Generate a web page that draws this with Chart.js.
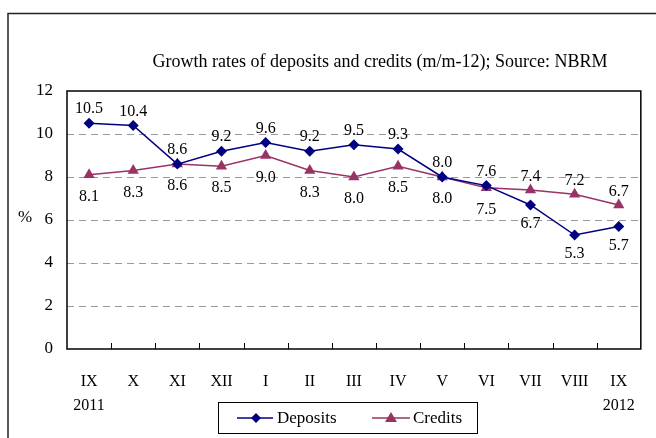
<!DOCTYPE html>
<html>
<head>
<meta charset="utf-8">
<script src="https://cdn.jsdelivr.net/npm/chart.js@4"></script>
<style>
  html, body { margin: 0; padding: 0; background: #fff; }
  #wrap { position: relative; width: 656px; height: 438px; overflow: hidden; }
</style>
</head>
<body>
<div id="wrap"><canvas id="growthChart" width="656" height="438"></canvas></div>
<script>
// month labels, the year sits under the first and last one
const months = [["IX", "2011"], "X", "XI", "XII", "I", "II", "III", "IV", "V", "VI", "VII", "VIII", ["IX", "2012"]];
const deposits = [10.5, 10.4, 8.6, 9.2, 9.6, 9.2, 9.5, 9.3, 8.0, 7.6, 6.7, 5.3, 5.7];
const credits = [8.1, 8.3, 8.6, 8.5, 9.0, 8.3, 8.0, 8.5, 8.0, 7.5, 7.4, 7.2, 6.7];
const yTicks = [0, 2, 4, 6, 8, 10, 12];

const FONT = "'Liberation Serif', 'DejaVu Serif', serif";
const NAVY = "#000080";
const PLUM = "#993366";

// frame, title, % label, legend, value labels, inner ticks
const decor = {
  id: "decor",
  beforeDatasetsDraw(chart) {
    const c = chart.ctx;
    const a = chart.chartArea;
    const x = chart.scales.x;
    c.save();
    // outer chart border (runs off the picture right and bottom)
    c.strokeStyle = "#222";
    c.lineWidth = 1.5;
    c.strokeRect(8, 13.5, 900, 600);
    // plot frame
    c.strokeStyle = "#000";
    c.lineWidth = 1.5;
    c.strokeRect(a.left, a.top, a.right - a.left, a.bottom - a.top);
    // small ticks between categories, pointing up
    c.lineWidth = 1;
    for (let i = 0; i < months.length - 1; i++) {
      const px = Math.round((x.getPixelForValue(i) + x.getPixelForValue(i + 1)) / 2) + 0.5;
      c.beginPath();
      c.moveTo(px, a.bottom);
      c.lineTo(px, a.bottom - 6);
      c.stroke();
    }
    c.restore();
  },
  afterDatasetsDraw(chart) {
    const c = chart.ctx;
    c.save();
    c.fillStyle = "#000";
    c.textAlign = "center";
    c.textBaseline = "middle";
    c.font = "18px " + FONT;
    c.fillText("Growth rates of deposits and credits (m/m-12); Source: NBRM", 380, 62);
    c.font = "17px " + FONT;
    c.fillText("%", 25, 218);

    // value labels: the higher series gets its label above
    c.font = "16px " + FONT;
    const d0 = chart.getDatasetMeta(0).data;
    const d1 = chart.getDatasetMeta(1).data;
    for (let i = 0; i < deposits.length; i++) {
      const depUp = deposits[i] >= credits[i];
      c.fillText(deposits[i].toFixed(1), d0[i].x, d0[i].y + (depUp ? -14 : 19));
      c.fillText(credits[i].toFixed(1), d1[i].x, d1[i].y + (depUp ? 22 : -13));
    }

    // legend
    c.strokeStyle = "#000";
    c.lineWidth = 1;
    c.strokeRect(218.5, 402.5, 259, 31);
    const ly = 418;
    c.lineWidth = 1.5;
    c.strokeStyle = NAVY;
    c.beginPath(); c.moveTo(237, ly); c.lineTo(273, ly); c.stroke();
    c.fillStyle = NAVY;
    c.beginPath();
    c.moveTo(256, ly - 5); c.lineTo(261, ly); c.lineTo(256, ly + 5); c.lineTo(251, ly);
    c.closePath(); c.fill();
    c.strokeStyle = PLUM;
    c.beginPath(); c.moveTo(372, ly); c.lineTo(410, ly); c.stroke();
    c.fillStyle = PLUM;
    c.beginPath();
    c.moveTo(391, ly - 6); c.lineTo(397, ly + 4); c.lineTo(385, ly + 4);
    c.closePath(); c.fill();
    c.fillStyle = "#000";
    c.textAlign = "left";
    c.font = "17px " + FONT;
    c.fillText("Deposits", 277, ly + 1);
    c.fillText("Credits", 413, ly + 1);
    c.restore();
  }
};

new Chart(document.getElementById("growthChart"), {
  type: "line",
  data: {
    labels: months,
    datasets: [
      {
        label: "Deposits",
        data: deposits,
        borderColor: NAVY,
        backgroundColor: NAVY,
        borderWidth: 1.5,
        pointStyle: "rectRot",
        pointRadius: 5.5,
        pointBorderWidth: 0,
        tension: 0
      },
      {
        label: "Credits",
        data: credits,
        borderColor: PLUM,
        backgroundColor: PLUM,
        borderWidth: 1.5,
        pointStyle: "triangle",
        pointRadius: 6.5,
        pointBorderWidth: 0,
        tension: 0
      }
    ]
  },
  options: {
    responsive: false,
    animation: false,
    devicePixelRatio: 1,
    layout: { padding: { left: 0, top: 91, right: 6, bottom: 0 } },
    plugins: {
      legend: { display: false },
      title: { display: false },
      tooltip: { enabled: false }
    },
    scales: {
      x: {
        type: "category",
        offset: true,
        grid: { display: false, drawTicks: false },
        border: { display: false },
        ticks: {
          color: "#000",
          font: { family: FONT, size: 16, lineHeight: 1.5 },
          padding: 21,
          maxRotation: 0,
          autoSkip: false
        },
        afterFit(scale) { scale.height = 89; }
      },
      y: {
        min: 0,
        max: 12,
        afterBuildTicks(scale) { scale.ticks = yTicks.map(v => ({ value: v })); },
        grid: {
          drawTicks: false,
          color: ctx => (ctx.tick && (ctx.tick.value === 0 || ctx.tick.value === 12)) ? "rgba(0,0,0,0)" : "#999",
          lineWidth: 1
        },
        border: { display: false, dash: [7, 5] },
        ticks: {
          color: "#000",
          font: { family: FONT, size: 17 },
          padding: 14
        },
        afterFit(scale) { scale.width = 67; }
      }
    }
  },
  plugins: [decor]
});
</script>
</body>
</html>
